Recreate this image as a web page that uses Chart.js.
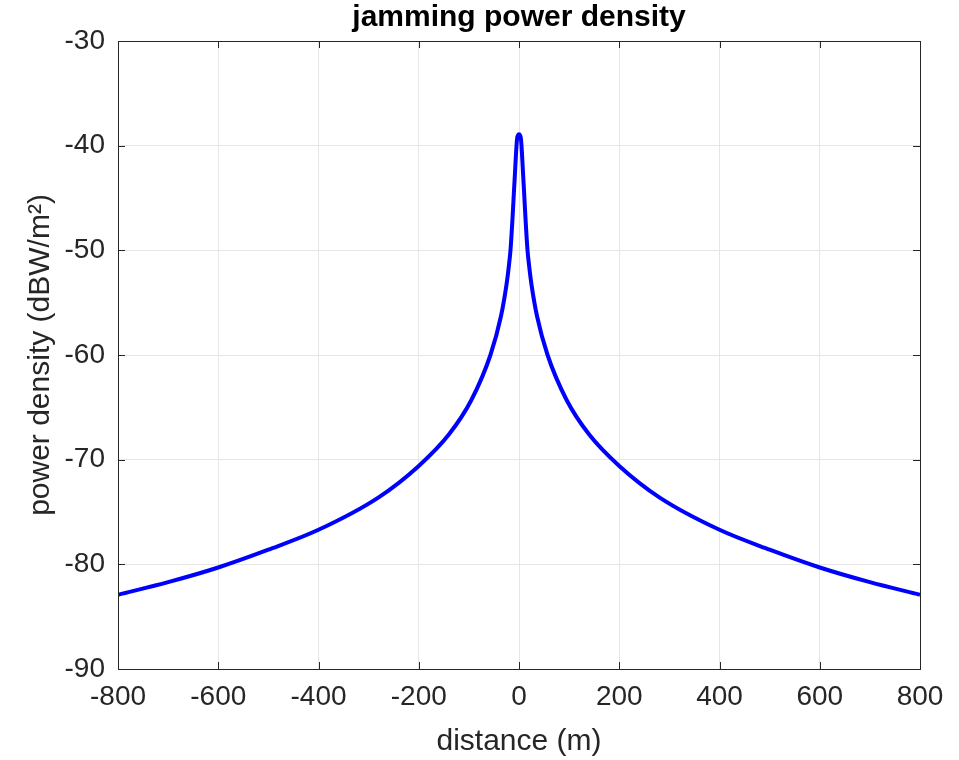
<!DOCTYPE html>
<html>
<head>
<meta charset="utf-8">
<script src="https://cdn.jsdelivr.net/npm/chart.js@4/dist/chart.umd.min.js"></script>
<style>
  html, body { margin: 0; padding: 0; background: #ffffff; }
  #wrap { width: 959px; height: 760px; }
</style>
</head>
<body>
<div id="wrap"><canvas id="c" width="959" height="760"></canvas></div>
<script>
// Distances (m) and read-off power density values (dBW/m^2)
const distances = [-800, -700, -600, -500, -400, -280, -200, -140, -95, -57, -36, -25, -20, -17, -13, -10, -8, -6, -4, -2, 0, 2, 4, 6, 8, 10, 13, 17, 20, 25, 36, 57, 95, 140, 200, 280, 400, 500, 600, 700, 800];
const powerDensity = [-82.9, -81.7, -80.3, -78.6, -76.7, -73.6, -70.6, -67.6, -64.3, -60.0, -56.3, -53.3, -51.4, -50.0, -47.0, -44.3, -42.6, -40.8, -39.4, -39.0, -38.9, -39.0, -39.4, -40.8, -42.6, -44.3, -47.0, -50.0, -51.4, -53.3, -56.3, -60.0, -64.3, -67.6, -70.6, -73.6, -76.7, -78.6, -80.3, -81.7, -82.9];
const xTicks = [-800, -600, -400, -200, 0, 200, 400, 600, 800];
const yTicks = [-90, -80, -70, -60, -50, -40, -30];

const chartTitle = 'jamming power density';
const xTitle = 'distance (m)';
const yTitle = 'power density (dBW/m\u00B2)';

const points = distances.map((d, i) => ({ x: d, y: powerDensity[i] }));

const FONT = 'Helvetica, Arial, "Liberation Sans", sans-serif';
const TXT = '#262626';

const boxPlugin = {
  id: 'boxPlugin',
  afterDraw(chart) {
    const { ctx, chartArea: a, scales } = chart;
    ctx.save();
    ctx.strokeStyle = '#262626';
    ctx.lineWidth = 1;
    ctx.strokeRect(Math.round(a.left) + 0.5, Math.round(a.top) + 0.5, Math.round(a.right - a.left), Math.round(a.bottom - a.top));
    const tl = 7;
    ctx.beginPath();
    xTicks.forEach(v => {
      const px = Math.round(scales.x.getPixelForValue(v)) + 0.5;
      ctx.moveTo(px, a.bottom); ctx.lineTo(px, a.bottom - tl);
      ctx.moveTo(px, a.top); ctx.lineTo(px, a.top + tl);
    });
    yTicks.forEach(v => {
      const py = Math.round(scales.y.getPixelForValue(v)) + 0.5;
      ctx.moveTo(a.left, py); ctx.lineTo(a.left + tl, py);
      ctx.moveTo(a.right, py); ctx.lineTo(a.right - tl, py);
    });
    ctx.stroke();
    ctx.restore();
  }
};

new Chart(document.getElementById('c'), {
  type: 'scatter',
  data: {
    datasets: [{
      data: points,
      showLine: true,
      borderColor: '#0000ff',
      borderWidth: 4,
      pointRadius: 0,
      cubicInterpolationMode: 'monotone',
      fill: false
    }]
  },
  options: {
    responsive: false,
    animation: false,
    layout: { padding: { left: 0, right: 39, top: 0, bottom: 0 } },
    plugins: {
      legend: { display: false },
      tooltip: { enabled: false },
      title: {
        display: true,
        fullSize: false,
        text: chartTitle,
        color: '#000000',
        font: { family: FONT, size: 30, weight: 'bold' },
        padding: { top: 0, bottom: 5 }
      }
    },
    scales: {
      x: {
        type: 'linear',
        min: -800, max: 800,
        afterBuildTicks(scale) { scale.ticks = xTicks.map(v => ({ value: v })); },
        afterFit(scale) { scale.height = 91; },
        grid: { color: '#e6e6e6', lineWidth: 1, drawTicks: false },
        border: { display: false },
        ticks: { color: TXT, font: { family: FONT, size: 28 }, padding: 11, maxRotation: 0, autoSkip: false },
        title: { display: true, text: xTitle, color: TXT, font: { family: FONT, size: 30 }, padding: { top: 0, bottom: 0 } }
      },
      y: {
        type: 'linear',
        min: -90, max: -30,
        afterBuildTicks(scale) { scale.ticks = yTicks.map(v => ({ value: v })); },
        afterFit(scale) { scale.width = 118; },
        grid: { color: '#e6e6e6', lineWidth: 1, drawTicks: false },
        border: { display: false },
        ticks: { color: TXT, font: { family: FONT, size: 28 }, padding: 13, autoSkip: false },
        title: { display: true, text: yTitle, color: TXT, font: { family: FONT, size: 30 }, padding: { top: 23, bottom: 0 } }
      }
    }
  },
  plugins: [boxPlugin]
});
</script>
</body>
</html>
